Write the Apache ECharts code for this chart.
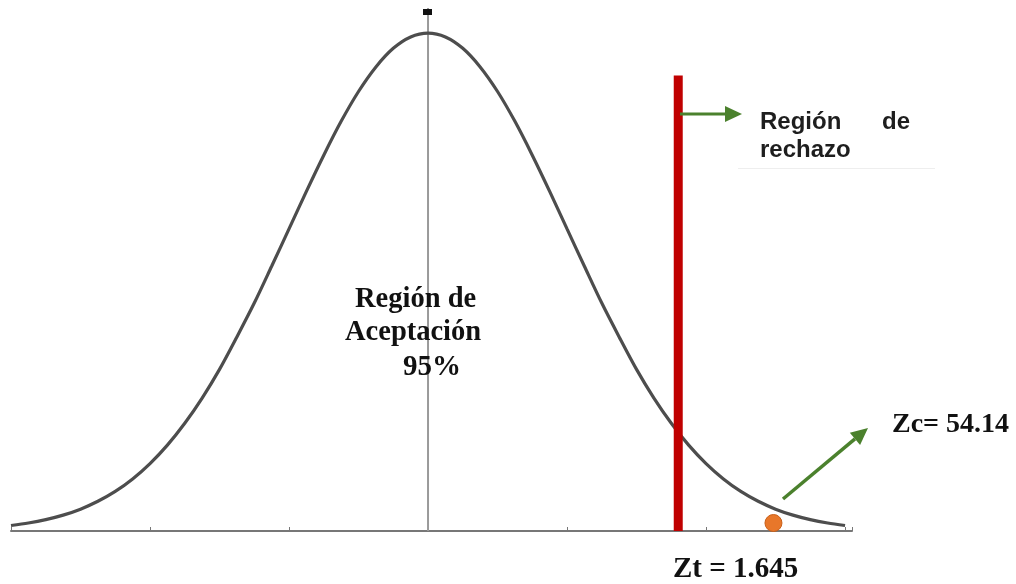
<!DOCTYPE html>
<html>
<head>
<meta charset="utf-8">
<script src="https://cdn.jsdelivr.net/npm/echarts@6/dist/echarts.min.js"></script>
<style>
html,body{margin:0;padding:0;background:#fff;}
#chart{width:1016px;height:584px;}
</style>
</head>
<body>
<div id="chart"></div>
<script>
// Curve values (z, density)
var curveZ = [-3, -2.875, -2.75, -2.625, -2.5, -2.375, -2.25, -2.125, -2, -1.875, -1.75, -1.625, -1.5, -1.375, -1.25, -1.125, -1, -0.875, -0.75, -0.625, -0.5, -0.375, -0.25, -0.125, 0,
              0.125, 0.25, 0.375, 0.5, 0.625, 0.75, 0.875, 1, 1.125, 1.25, 1.375, 1.5, 1.625, 1.75, 1.875, 2, 2.125, 2.25, 2.375, 2.5, 2.625, 2.75, 2.875, 3];
var curveY = [0.0044, 0.0064, 0.0091, 0.0127, 0.0175, 0.0238, 0.0317, 0.0417, 0.054, 0.0688, 0.0863, 0.1065, 0.1295, 0.1555, 0.1826, 0.2121, 0.242, 0.2721, 0.3011, 0.3282, 0.3521, 0.3718, 0.3867, 0.3958, 0.3989,
              0.3958, 0.3867, 0.3718, 0.3521, 0.3282, 0.3011, 0.2721, 0.242, 0.2121, 0.1826, 0.1555, 0.1295, 0.1065, 0.0863, 0.0688, 0.054, 0.0417, 0.0317, 0.0238, 0.0175, 0.0127, 0.0091, 0.0064, 0.0044];
// Critical line position (as drawn) and its top, and the Zc point (as drawn)
var criticalLine = [[1.8, 0], [1.8, 0.365]];
var zcPoint = [[2.485, 0.0064]];
var centerLine = [[0, 0], [0, 0.419]];

var chart = echarts.init(document.getElementById('chart'), null, {renderer: 'canvas'});

function arrow(x1, y1, x2, y2, color, w, headLen, headHalf) {
  var dx = x2 - x1, dy = y2 - y1, L = Math.sqrt(dx * dx + dy * dy);
  var ux = dx / L, uy = dy / L;
  var bx = x2 - ux * headLen, by = y2 - uy * headLen;
  var px = -uy * headHalf, py = ux * headHalf;
  return [
    {type: 'line', shape: {x1: x1, y1: y1, x2: bx, y2: by}, style: {stroke: color, lineWidth: w}, z: 20},
    {type: 'polygon', shape: {points: [[x2, y2], [bx + px, by + py], [bx - px, by - py]]}, style: {fill: color}, z: 20}
  ];
}

var green = '#4b812d';
var serif = '"Liberation Serif", "Times New Roman", serif';
var sans = '"Liberation Sans", Arial, sans-serif';

var graphics = [].concat(
  arrow(680, 114, 742, 114, green, 3, 17, 8),
  arrow(783, 499, 868, 428, green, 3.5, 17, 8),
  [
    {type: 'rect', shape: {x: 423, y: 9, width: 9, height: 6}, style: {fill: '#111'}, z: 20},
    {type: 'line', shape: {x1: 738, y1: 168.5, x2: 935, y2: 168.5}, style: {stroke: '#eeeeee', lineWidth: 1}, z: 1},
    {type: 'text', x: 760, y: 122, style: {text: 'Región', font: 'bold 24px ' + sans, fill: '#1e1e1e', textVerticalAlign: 'middle'}, z: 20},
    {type: 'text', x: 882, y: 122, style: {text: 'de', font: 'bold 24px ' + sans, fill: '#1e1e1e', textVerticalAlign: 'middle'}, z: 20},
    {type: 'text', x: 760, y: 150, style: {text: 'rechazo', font: 'bold 24px ' + sans, fill: '#1e1e1e', textVerticalAlign: 'middle'}, z: 20},
    {type: 'text', x: 355, y: 300, style: {text: 'Región de', font: 'bold 28.5px ' + serif, fill: '#111', textVerticalAlign: 'middle'}, z: 20},
    {type: 'text', x: 345, y: 333, style: {text: 'Aceptación', font: 'bold 28.5px ' + serif, fill: '#111', textVerticalAlign: 'middle'}, z: 20},
    {type: 'text', x: 403, y: 368, style: {text: '95%', font: 'bold 29px ' + serif, fill: '#111', textVerticalAlign: 'middle'}, z: 20},
    {type: 'text', x: 673, y: 570, style: {text: 'Zt = 1.645', font: 'bold 29px ' + serif, fill: '#111', textVerticalAlign: 'middle'}, z: 20},
    {type: 'text', x: 892, y: 425, style: {text: 'Zc= 54.14', font: 'bold 28px ' + serif, fill: '#111', textVerticalAlign: 'middle'}, z: 20}
  ]
);

chart.setOption({
  animation: false,
  backgroundColor: '#fff',
  grid: {left: 11, right: 164, top: 8, bottom: 53, containLabel: false},
  xAxis: {
    type: 'value', min: -3, max: 3.05, interval: 1,
    axisLine: {onZero: false, lineStyle: {color: '#777', width: 2}},
    axisTick: {show: true, inside: true, length: 4, lineStyle: {color: '#777', width: 1}},
    axisLabel: {show: false},
    splitLine: {show: false}
  },
  yAxis: {
    type: 'value', min: 0, max: 0.419, show: false,
    splitLine: {show: false}
  },
  series: [
    {type: 'line', data: centerLine, symbol: 'none', lineStyle: {color: '#9a9a9a', width: 2}, z: 1, silent: true},
    {type: 'line', data: curveZ.map(function (z, i) { return [z, curveY[i]]; }), smooth: 0.3, symbol: 'none', lineStyle: {color: '#4d4d4d', width: 3.2}, z: 3},
    {type: 'line', data: criticalLine, symbol: 'none', lineStyle: {color: '#c00000', width: 9, cap: 'butt'}, z: 5},
    {type: 'scatter', data: zcPoint, symbol: 'circle', symbolSize: 17, itemStyle: {color: '#e8772a', opacity: 1, borderColor: '#c95f18', borderWidth: 1}, z: 6}
  ],
  graphic: graphics
});
</script>
</body>
</html>
